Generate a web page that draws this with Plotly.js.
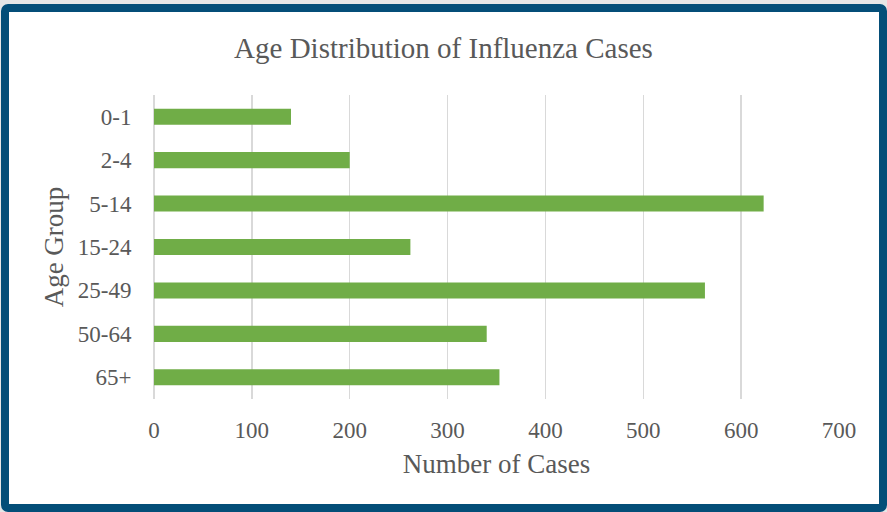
<!DOCTYPE html>
<html>
<head>
<meta charset="utf-8">
<script src="https://cdn.plot.ly/plotly-3.0.1.min.js"></script>
<style>
  html, body { margin: 0; padding: 0; background: #e6e6e6; }
  #wrap { position: relative; width: 887px; height: 512px; overflow: hidden; background: #e6e6e6; }
  #chart { position: absolute; left: 0; top: 0; width: 887px; height: 512px; }
  #frame { position: absolute; left: 1px; top: 4px; width: 886px; height: 508px; box-sizing: border-box;
           border: 8px solid #044E78; border-radius: 7px; pointer-events: none; }
  #bg { position: absolute; left: 1px; top: 4px; width: 886px; height: 508px; background: #fff; border-radius: 7px; }
</style>
</head>
<body>
<div id="wrap">
  <div id="bg"></div>
  <div id="chart"></div>
  <div id="frame"></div>
</div>
<script>
const ageGroups = ["0-1", "2-4", "5-14", "15-24", "25-49", "50-64", "65+"];
const cases = [140, 200, 623, 262, 563, 340, 353];
const xTicks = [0, 100, 200, 300, 400, 500, 600, 700];

const serif = "Liberation Serif, Times New Roman, serif";
const grey = "#595959";

const trace = {
  type: "bar",
  orientation: "h",
  y: ageGroups,
  x: cases,
  marker: { color: "#70AD47" },
  hoverinfo: "x+y"
};

const layout = {
  width: 887,
  height: 512,
  paper_bgcolor: "rgba(0,0,0,0)",
  plot_bgcolor: "rgba(0,0,0,0)",
  margin: { l: 154, r: 48, t: 95, b: 113 },
  bargap: 0.63,
  showlegend: false,
  title: {
    text: "Age Distribution of Influenza Cases",
    font: { family: serif, size: 29, color: grey },
    x: 0.5, xref: "container", xanchor: "center",
    y: 47, yref: "container", yanchor: "middle"
  },
  xaxis: {
    range: [0, 700],
    tickvals: xTicks,
    ticktext: xTicks.map(String),
    showgrid: true,
    gridcolor: "#D9D9D9",
    gridwidth: 1.5,
    zeroline: true,
    zerolinecolor: "#D9D9D9",
    zerolinewidth: 1.5,
    showline: false,
    ticks: "outside",
    ticklen: 10,
    tickcolor: "rgba(0,0,0,0)",
    tickfont: { family: serif, size: 23, color: grey },
    title: {
      text: "Number of Cases",
      font: { family: serif, size: 27, color: grey },
      standoff: 12
    },
    fixedrange: true
  },
  yaxis: {
    autorange: "reversed",
    type: "category",
    showgrid: false,
    showline: false,
    zeroline: false,
    ticks: "outside",
    ticklen: 17,
    tickcolor: "rgba(0,0,0,0)",
    tickfont: { family: serif, size: 23, color: grey },
    title: {
      text: "Age Group",
      font: { family: serif, size: 27, color: grey },
      standoff: 6
    },
    fixedrange: true
  }
};

Plotly.newPlot("chart", [trace], layout, { displayModeBar: false, staticPlot: true });
</script>
</body>
</html>
